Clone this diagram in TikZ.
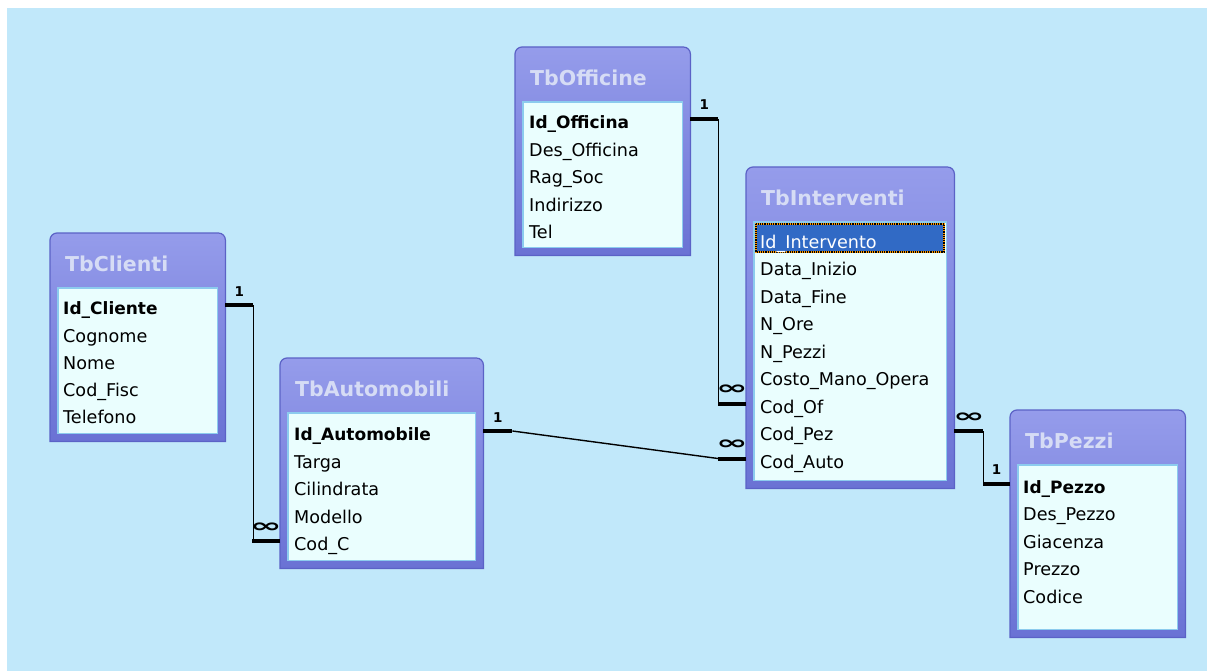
\documentclass[tikz,border=0pt]{standalone}
\usepackage{fontspec}
\setmainfont{DejaVu Sans}

\definecolor{sfondo}{HTML}{C1E8FA}
\definecolor{boxtop}{HTML}{959CEB}
\definecolor{boxbot}{HTML}{6A72D4}
\definecolor{boxline}{HTML}{5B62C6}
\definecolor{campi}{HTML}{EAFEFE}
\definecolor{campibordo}{HTML}{8CCBEE}
\definecolor{titcol}{HTML}{D6DCF5}
\definecolor{selez}{HTML}{316AC5}

\newcommand{\molti}{\scalebox{2}[1]{\fontsize{19}{19}\selectfont ∞}}

\begin{document}
\begin{tikzpicture}[x=1pt,y=-1pt,
    tabella/.style={rectangle, inner sep=0pt, anchor=north west},
    cornice/.style={top color=boxtop, bottom color=boxbot, draw=boxline, line width=1.2pt},
    interno/.style={fill=campi, draw=campibordo, line width=1.5pt},
    titolo/.style={anchor=west, inner sep=0pt, text=titcol, font=\bfseries\fontsize{20.5}{24}\selectfont},
    campo/.style={anchor=west, inner sep=0pt, text height=21pt, text depth=1.6pt, font=\fontsize{17.6}{20}\selectfont},
    chiave/.style={campo, font=\bfseries\fontsize{17}{20}\selectfont},
    rel/.style={line width=1.4pt},
    lato/.style={line width=4pt},
    card/.style={inner sep=0pt, font=\bfseries\fontsize{13.5}{14}\selectfont}]

  \useasboundingbox (0,0) rectangle (1207,671);
  \fill[white] (0,0) rectangle (1207,671);
  \fill[sfondo] (7,8) rectangle (1207,671);   % background

  % tables
  \node[tabella, minimum width=175pt, minimum height=208pt] (clienti) at (50,233) {};
  \node[tabella, minimum width=203pt, minimum height=210pt] (automobili) at (280,358) {};
  \node[tabella, minimum width=175pt, minimum height=208pt] (officine) at (515,47) {};
  \node[tabella, minimum width=208pt, minimum height=321pt] (interventi) at (746,167) {};
  \node[tabella, minimum width=175pt, minimum height=227pt] (pezzi) at (1010,410) {};

  \foreach \t/\nome in {clienti/TbClienti, automobili/TbAutomobili, officine/TbOfficine, interventi/TbInterventi, pezzi/TbPezzi}{
    \shadedraw[cornice] (\t.south west) [rounded corners=7pt] -- (\t.north west) -- (\t.north east) [sharp corners] -- (\t.south east) -- cycle;
    \filldraw[interno] ([shift={(8,55)}]\t.north west) rectangle ([shift={(-8,-8)}]\t.south east);
    \node[titolo] (t-\t) at ([shift={(15,31)}]\t.north west) {\nome};
  }

  % TbClienti
  \node[chiave] (cl-0) at (63,305) {Id\_Cliente};
  \foreach \campo [count=\i] in {Cognome, Nome, Cod\_Fisc, Telefono}
    \node[campo] (cl-\i) at (63,{305+27.3*\i}) {\campo};

  % TbAutomobili
  \node[chiave] (au-0) at (294,431) {Id\_Automobile};
  \foreach \campo [count=\i] in {Targa, Cilindrata, Modello, Cod\_C}
    \node[campo] (au-\i) at (294,{431+27.5*\i}) {\campo};

  % TbOfficine
  \node[chiave] (of-0) at (529,119) {Id\_Officina};
  \foreach \campo [count=\i] in {Des\_Officina, Rag\_Soc, Indirizzo, Tel}
    \node[campo] (of-\i) at (529,{119+27.5*\i}) {\campo};

  % TbInterventi (first row selected)
  \fill[selez] (756,224) rectangle (944,252);
  \draw[orange!80!yellow, line width=1.2pt] (756,224) rectangle (944,252);
  \draw[densely dotted, line width=1.2pt] (756,224) rectangle (944,252);
  \node[campo, text=white] (in-0) at (760,238.5) {Id\_Intervento};
  \foreach \campo [count=\i] in {Data\_Inizio, Data\_Fine, N\_Ore, N\_Pezzi, Costo\_Mano\_Opera, Cod\_Of, Cod\_Pez, Cod\_Auto}
    \node[campo] (in-\i) at (760,{238.5+27.5*\i}) {\campo};

  % TbPezzi
  \node[chiave] (pz-0) at (1023,483.5) {Id\_Pezzo};
  \foreach \campo [count=\i] in {Des\_Pezzo, Giacenza, Prezzo, Codice}
    \node[campo] (pz-\i) at (1023,{483.5+27.5*\i}) {\campo};

  % relationships: thick ends with 1 / many
  \draw[lato] (cl-0 -| clienti.east) -- ++(28,0) node[card, midway, above=7pt] (k1a) {1} coordinate (r1a);
  \draw[lato] (au-4 -| automobili.west) -- ++(-28,0) node[card, midway, above=7pt] (k1b) {\molti} coordinate (r1b);
  \draw[lato] (of-0 -| officine.east) -- ++(28,0) node[card, midway, above=7pt] (k2a) {1} coordinate (r2a);
  \draw[lato] (in-6 -| interventi.west) -- ++(-28,0) node[card, midway, above=7pt] (k2b) {\molti} coordinate (r2b);
  \draw[lato] (au-0 -| automobili.east) -- ++(29,0) node[card, midway, above=7pt] (k3a) {1} coordinate (r3a);
  \draw[lato] (in-8 -| interventi.west) -- ++(-28,0) node[card, midway, above=7pt] (k3b) {\molti} coordinate (r3b);
  \draw[lato] (in-7 -| interventi.east) -- ++(29,0) node[card, midway, above=7pt] (k4a) {\molti} coordinate (r4a);
  \draw[lato] (pz-0 -| pezzi.west) -- ++(-27,0) node[card, midway, above=7pt] (k4b) {1} coordinate (r4b);

  \draw[rel] (r1a) |- (r1b);
  \draw[rel] (r2a) |- (r2b);
  \draw[rel] (r3a) -- (r3b);
  \draw[rel] (r4a) |- (r4b);

\end{tikzpicture}
\end{document}
